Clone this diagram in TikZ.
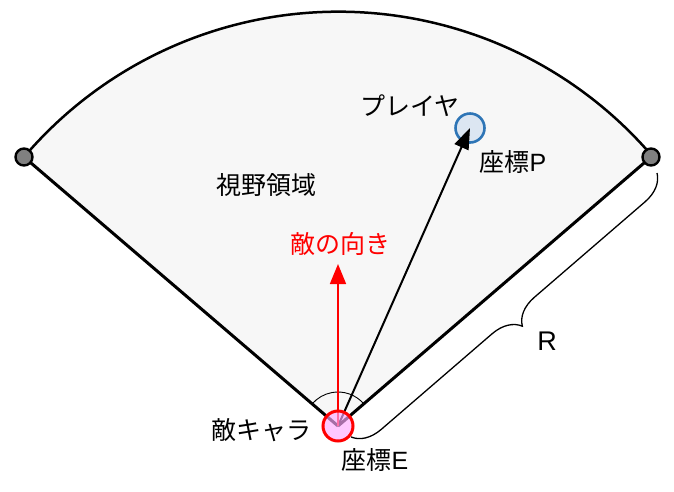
\documentclass[tikz,border=0pt]{standalone}
\usepackage{fontspec}
\setmainfont{Liberation Sans}
\newfontfamily\cjk{Noto Sans CJK JP}
\usetikzlibrary{decorations.pathreplacing,arrows.meta,calc}
\definecolor{fanfill}{RGB}{247,247,247}
\definecolor{pblue}{RGB}{46,117,182}
\definecolor{pfill}{RGB}{220,230,242}
\definecolor{efill}{RGB}{255,170,255}
\definecolor{endgray}{RGB}{128,128,128}
\tikzset{
  lbl/.style={font=\fontsize{25pt}{28pt}\selectfont, inner sep=0pt},
  edge/.style={line width=3pt},
  endpt/.style={circle, draw=black, line width=2.4pt, fill=endgray, minimum size=17pt, inner sep=0pt},
}
\begin{document}
\begin{tikzpicture}[x=1pt,y=-1pt]
\useasboundingbox (0,0) rectangle (674,491);
\coordinate (E) at (338,426);
\coordinate (L) at (24,157);
\coordinate (Rp) at (651,157);
% sector
\fill[fanfill] (E) -- (L) arc[start angle=-139.6, end angle=-40.7, radius=413] -- cycle;
\draw[line width=2.5pt] (L) arc[start angle=-139.6, end angle=-40.7, radius=413];
\draw[edge] (E) -- (L);
\draw[edge] (E) -- (Rp);
% angle arc
\draw[line width=0.9pt] ($(E)+(-40.7:34)$) arc[start angle=-40.7, end angle=-139.6, radius=34];
% end points
\node[endpt] (nL) at (L) {};
\node[endpt] (nR) at (Rp) {};
% player
\node[circle, draw=pblue, line width=2.6pt, fill=pfill, minimum size=29pt, inner sep=0pt] (P) at (470,128) {};
\draw[line width=2pt, -{Triangle[length=21pt,width=15pt]}] (E) -- (P.center);
% facing direction
\coordinate (F) at (338,264);
\draw[red, line width=1.6pt, -{Triangle[length=20pt,width=16pt]}] (E) -- (F);
% enemy
\node[circle, draw=red, line width=3pt, fill=efill, fill opacity=0.65, minimum size=30pt, inner sep=0pt] (En) at (E) {};
% brace
\draw[line width=1.3pt, decorate, decoration={brace, amplitude=28pt}] (657,173) -- (351,437);
% labels
\node[lbl] (tPl) at (410,106) {\cjk プレイヤ};
\node[lbl] (tP) at (513,162) {{\cjk 座標}P};
\node[lbl] (tV) at (266,185) {\cjk 視野領域};
\node[lbl, text=red] (tD) at (340,244) {\cjk 敵の向き};
\node[lbl] (tEn) at (261,430) {\cjk 敵キャラ};
\node[lbl] (tE) at (375,460) {{\cjk 座標}E};
\node[lbl, font=\fontsize{27pt}{30pt}\selectfont] (tR) at (547,341) {R};
\end{tikzpicture}
\end{document}
